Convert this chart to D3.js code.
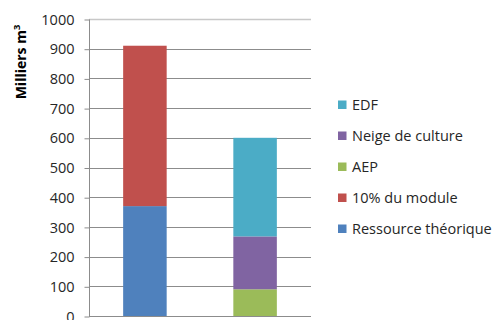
<!DOCTYPE html>
<html>
<head>
<meta charset="utf-8">
<script src="https://cdn.jsdelivr.net/npm/d3@7"></script>
<style>
  html, body { margin: 0; padding: 0; background: #fff; }
  svg { display: block; font-family: "Open Sans", sans-serif; }
</style>
</head>
<body>
<svg id="chart" width="494" height="320"></svg>
<script>
// Stacked columns: available resource vs. uses (thousands of m³)
const categories = ["Ressource", "Usages"];
const seriesNames = ["Ressource théorique", "10% du module", "AEP", "Neige de culture", "EDF"];
const seriesColors = ["#4f81bd", "#c0504d", "#9bbb59", "#8064a2", "#4bacc6"];
const ressourceTheorique = [370, 0];
const dixPourcentModule = [540, 0];
const aep = [0, 90];
const neigeDeCulture = [0, 178];
const edf = [0, 332];
const yTicks = [0, 100, 200, 300, 400, 500, 600, 700, 800, 900, 1000];

const seriesValues = [ressourceTheorique, dixPourcentModule, aep, neigeDeCulture, edf];
const rows = categories.map((c, i) => {
  const r = { cat: c };
  seriesNames.forEach((s, j) => { r[s] = seriesValues[j][i]; });
  return r;
});

const svg = d3.select("#chart");
const plotLeft = 89, plotRight = 311, plotTop = 19, plotBottom = 316;

const y = d3.scaleLinear().domain([0, 1000]).range([plotBottom, plotTop]);
const xb = d3.scaleBand().domain(categories).range([plotLeft, plotRight]).paddingInner(0.605).paddingOuter(0.31);

// Gridlines
svg.append("g")
  .selectAll("line")
  .data(yTicks.filter(t => t > 0))
  .join("line")
  .attr("x1", plotLeft).attr("x2", plotRight)
  .attr("y1", d => Math.round(y(d)) + 0.5).attr("y2", d => Math.round(y(d)) + 0.5)
  .attr("stroke", d => d === 1000 ? "#c8c8c8" : "#8c8c8c")
  .attr("stroke-width", d => d === 1000 ? 1.5 : 1);

// Stacked bars
const stack = d3.stack().keys(seriesNames);
const layers = stack(rows);
svg.append("g")
  .selectAll("g")
  .data(layers)
  .join("g")
  .attr("fill", (d, i) => seriesColors[i])
  .selectAll("rect")
  .data(d => d.filter(p => p[1] - p[0] > 0))
  .join("rect")
  .attr("x", d => xb(d.data.cat))
  .attr("width", xb.bandwidth())
  .attr("y", d => y(d[1]))
  .attr("height", d => y(d[0]) - y(d[1]));

// Y axis
const yAxis = d3.axisLeft(y).tickValues(yTicks).tickSize(5).tickPadding(10).tickFormat(d3.format("d"));
const ga = svg.append("g").attr("transform", `translate(${plotLeft + 0.5},0.5)`).call(yAxis);
ga.select(".domain").attr("stroke", "#8c8c8c").attr("d", `M0,${plotTop}V${plotBottom}`);
ga.selectAll(".tick line").attr("stroke", "#8c8c8c");
ga.selectAll(".tick text").attr("fill", "#262626").style("font-size", "14.5px").style("font-family", "'Open Sans', sans-serif");

// X axis baseline
svg.append("line")
  .attr("x1", plotLeft).attr("x2", plotRight)
  .attr("y1", plotBottom + 0.5).attr("y2", plotBottom + 0.5)
  .attr("stroke", "#8c8c8c");

// Y axis title
const title = svg.append("text")
  .attr("transform", "translate(26,62) rotate(-90)")
  .attr("text-anchor", "middle")
  .style("font-size", "14px")
  .style("font-weight", "bold")
  .attr("fill", "#000");
title.append("tspan").text("Milliers m");
title.append("tspan").attr("dy", -6).style("font-size", "9.5px").text("3");

// Legend (top to bottom, reverse stack order)
const legendItems = seriesNames.map((n, i) => ({ name: n, color: seriesColors[i] })).reverse();
const lg = svg.append("g").attr("transform", "translate(338,105)");
const li = lg.selectAll("g").data(legendItems).join("g")
  .attr("transform", (d, i) => `translate(0,${i * 31})`);
li.append("rect").attr("x", 0).attr("y", -4.5).attr("width", 8.5).attr("height", 8.5).attr("fill", d => d.color);
li.append("text").attr("x", 14).attr("y", 0).attr("dy", "0.35em")
  .style("font-size", "14.5px").attr("fill", "#262626").text(d => d.name);
</script>
</body>
</html>
